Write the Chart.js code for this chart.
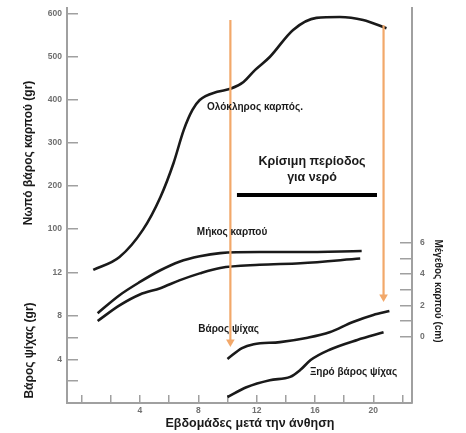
<!DOCTYPE html>
<html>
<head>
<meta charset="utf-8">
<script src="https://cdn.jsdelivr.net/npm/chart.js@4.4.1/dist/chart.umd.min.js"></script>
<style>
  html, body { margin: 0; padding: 0; background: #fff; }
  #wrap { width: 466px; height: 433px; position: relative; }
</style>
</head>
<body>
<div id="wrap"><canvas id="c"></canvas></div>
<script>
(function () {
    'use strict';

    // --- values (x = weeks after flowering) ---
    const wholeWeeks = [0.8, 2.6, 4.2, 5.4, 6.3, 7.0, 7.6, 8.1, 9.3, 10.2, 11.1, 11.9, 12.9, 14.5, 16.1, 17.7, 19.3, 20.9];
    const wholeFresh = [5, 35, 98, 174, 253, 330, 377, 400, 419, 426, 442, 470, 500, 563, 591, 593, 586, 567];

    const lengthWeeks = [1.1, 2.6, 4.0, 5.4, 6.7, 8.1, 9.5, 12.2, 15.0, 19.2];
    const lengthCm    = [1.5, 2.65, 3.5, 4.25, 4.8, 5.15, 5.35, 5.42, 5.42, 5.48];

    const widthWeeks = [1.1, 2.6, 4.0, 5.4, 6.7, 8.1, 9.5, 12.2, 15.0, 19.1];
    const widthCm    = [1.0, 2.0, 2.7, 3.1, 3.6, 4.05, 4.4, 4.6, 4.7, 5.0];

    const kernelWeeks = [10.0, 11.0, 11.8, 13.6, 15.5, 17.0, 18.6, 20.0, 21.1];
    const kernelFresh = [4.05, 5.05, 5.4, 5.6, 6.0, 6.5, 7.45, 8.1, 8.45];

    const dryWeeks  = [10.0, 11.3, 12.9, 14.3, 15.0, 15.7, 17.0, 18.9, 20.7];
    const kernelDry = [0.55, 1.45, 2.1, 2.4, 3.05, 3.95, 4.9, 5.8, 6.5];

    // orange arrows (week, top value, tip value on the fresh-weight scale)
    const arrowWeeks = [10.2, 20.7];
    const arrowTop   = [586, 574];
    const arrowTip   = [-163, -58];

    // critical period bar
    const criticalWeeks = [10.65, 20.25];
    const criticalLevel = 179;

    // ticks
    const xTicks       = [0, 2, 4, 6, 8, 10, 12, 14, 16, 18, 20, 22];
    const xTickLabels  = [4, 8, 12, 16, 20];
    const freshTicks   = [100, 200, 300, 400, 500, 600];
    const kernelTicks  = [2, 4, 6, 8, 12];
    const kernelLabels = [4, 8, 12];
    const sizeTicks    = [0, 1, 2, 3, 4, 5, 6];
    const sizeLabels   = [0, 2, 4, 6];

    const notes = [
        { text: 'Ολόκληρος καρπός.', x: 8.6, y: 384, axis: 'yTop', align: 'left', size: 10 },
        { text: 'Κρίσιμη περίοδος', x: 15.8, y: 256, axis: 'yTop', align: 'center', size: 12.5 },
        { text: 'για νερό', x: 15.8, y: 219, axis: 'yTop', align: 'center', size: 12.5 },
        { text: 'Μήκος καρπού', x: 7.9, y: 93, axis: 'yTop', align: 'left', size: 10 },
        { text: 'Βάρος ψίχας', x: 8.0, y: 6.8, axis: 'yLow', align: 'left', size: 10 },
        { text: 'Ξηρό βάρος ψίχας', x: 15.65, y: 2.85, axis: 'yLow', align: 'left', size: 10 }
    ];

    const FONT = "'Liberation Sans', Arial, sans-serif";
    const AXIS = '#a0a0a0';
    const INK = '#1a1a1a';
    const LABEL = '#707070';
    const ORANGE = '#f2a86a';

    const zip = (xs, ys) => xs.map((x, i) => ({ x: x, y: ys[i] }));

    function curve(label, xs, ys, axis) {
        return {
            label: label, data: zip(xs, ys), yAxisID: axis,
            borderColor: INK, borderWidth: 2.6, pointRadius: 0,
            cubicInterpolationMode: 'monotone', fill: false, clip: false
        };
    }

    function arrow(i) {
        return {
            label: 'arrow' + i,
            data: [{ x: arrowWeeks[i], y: arrowTop[i] }, { x: arrowWeeks[i], y: arrowTip[i] }],
            yAxisID: 'yTop', borderColor: ORANGE, borderWidth: 2.2, clip: false,
            pointRadius: [0, 5], pointStyle: 'triangle', rotation: 180,
            pointBackgroundColor: ORANGE, pointBorderColor: ORANGE, pointBorderWidth: 0
        };
    }

    const tickFont = { family: FONT, size: 8.5, weight: 'bold' };
    const titleFont = { family: FONT, size: 12, weight: 'bold' };

    function setTicks(list) { return function (s) { s.ticks = list.map(v => ({ value: v })); }; }
    function only(list) { return function (v) { return list.includes(v) ? String(v) : ''; }; }
    function axisGrid(len) {
        return { drawOnChartArea: false, drawTicks: true, tickLength: len, color: AXIS, tickColor: AXIS, lineWidth: 1.5 };
    }
    // fixed box size, and no extra label padding pushed onto the chart area
    function fixedWidth(w) {
        return function (s) { s.width = w; s.paddingTop = 0; s.paddingBottom = 0; };
    }

    const notesPlugin = {
        id: 'notes',
        afterDatasetsDraw(chart) {
            const ctx = chart.ctx;
            notes.forEach(n => {
                const px = chart.scales.x.getPixelForValue(n.x);
                const py = chart.scales[n.axis].getPixelForValue(n.y);
                ctx.save();
                ctx.font = 'bold ' + n.size + 'px ' + FONT;
                ctx.fillStyle = INK;
                ctx.textAlign = n.align;
                ctx.textBaseline = 'middle';
                ctx.fillText(n.text, px, py);
                ctx.restore();
            });
        }
    };

    new Chart(document.getElementById('c').getContext('2d'), {
        type: 'line',
        data: {
            datasets: [
                arrow(0), arrow(1),
                curve('Ολόκληρος καρπός', wholeWeeks, wholeFresh, 'yTop'),
                curve('Μήκος καρπού', lengthWeeks, lengthCm, 'yR'),
                curve('Διάμετρος καρπού', widthWeeks, widthCm, 'yR'),
                curve('Βάρος ψίχας', kernelWeeks, kernelFresh, 'yLow'),
                curve('Ξηρό βάρος ψίχας', dryWeeks, kernelDry, 'yLow'),
                {
                    label: 'Κρίσιμη περίοδος', yAxisID: 'yTop', clip: false,
                    data: criticalWeeks.map(w => ({ x: w, y: criticalLevel })),
                    borderColor: '#000', borderWidth: 4, pointRadius: 0, borderCapStyle: 'butt'
                }
            ]
        },
        options: {
            responsive: true,
            maintainAspectRatio: false,
            animation: false,
            layout: { padding: { top: 8, left: 0, right: 0, bottom: 0 } },
            plugins: { legend: { display: false }, tooltip: { enabled: false } },
            scales: {
                x: {
                    type: 'linear', min: -1, max: 22.65,
                    afterBuildTicks: setTicks(xTicks),
                    afterFit: s => { s.height = 30; s.paddingLeft = 0; s.paddingRight = 0; },
                    border: { color: AXIS, width: 2 },
                    grid: axisGrid(-8),
                    ticks: { color: LABEL, font: tickFont, padding: 11, maxRotation: 0, autoSkip: false, callback: only(xTickLabels) },
                    title: { display: true, text: '      Εβδομάδες μετά την άνθηση', color: INK, font: { family: FONT, size: 12.5, weight: 'bold' }, padding: { top: 0, bottom: 2 } }
                },
                yTop: {
                    type: 'linear', position: 'left', stack: 'left', stackWeight: 290, weight: 2,
                    min: -60.47, max: 613.95,
                    afterBuildTicks: setTicks(freshTicks),
                    afterFit: fixedWidth(67),
                    border: { color: AXIS, width: 2 },
                    grid: axisGrid(-11),
                    ticks: { color: LABEL, font: tickFont, padding: 16, autoSkip: false },
                    title: { display: true, text: 'Νωπό βάρος καρπού (gr)', color: INK, font: titleFont, padding: { top: 21, bottom: 0 } }
                },
                yLow: {
                    type: 'linear', position: 'left', stack: 'left', stackWeight: 105, weight: 1,
                    min: 0, max: 9.655,
                    afterBuildTicks: setTicks(kernelTicks),
                    afterFit: fixedWidth(67),
                    border: { color: AXIS, width: 2 },
                    grid: axisGrid(-11),
                    ticks: { color: LABEL, font: tickFont, padding: 16, autoSkip: false, callback: only(kernelLabels) },
                    title: { display: true, text: 'Βάρος ψίχας (gr)', color: INK, font: titleFont, padding: { top: 22, bottom: 0 } }
                },
                yRTop: {
                    type: 'linear', position: 'right', stack: 'right', stackWeight: 171, weight: 1,
                    min: 0, max: 1,
                    afterFit: s => { s.paddingTop = 0; s.paddingBottom = 0; },
                    border: { color: AXIS, width: 2 },
                    grid: { display: false },
                    ticks: { display: false }
                },
                yR: {
                    type: 'linear', position: 'right', stack: 'right', stackWeight: 224, weight: 2,
                    min: -4.26, max: 10.1,
                    afterBuildTicks: setTicks(sizeTicks),
                    afterFit: fixedWidth(54),
                    border: { color: AXIS, width: 2 },
                    grid: axisGrid(-12),
                    ticks: { color: LABEL, font: tickFont, padding: 20, autoSkip: false, callback: only(sizeLabels) },
                    title: { display: true, text: 'Μέγεθος καρπού (cm)', color: INK, font: { family: FONT, size: 10, weight: 'bold' }, padding: { top: 22, bottom: 0 } }
                }
            }
        },
        plugins: [notesPlugin]
    });
})();
</script>
</body>
</html>
